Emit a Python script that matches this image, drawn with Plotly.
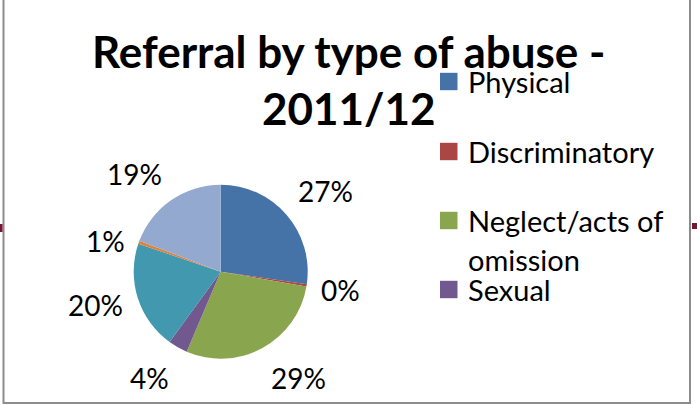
import math
import plotly.graph_objects as go

# ---- data ----
categories = ["Physical", "Discriminatory", "Neglect/acts of omission", "Sexual",
              "Financial/material", "Institutional", "Psychological/emotional"]
shares = [27.3, 0.4, 28.7, 3.6, 20.2, 0.6, 19.2]
colors = ["#4572A7", "#AA4643", "#89A54E", "#71588F", "#4198AF", "#DB843D", "#93A9CF"]
legend_shown = 4  # legend is cut off after the fourth entry in the original

W, H = 697, 405
FONT = "Lato"

def px(x):
    return x / W

def py(y):
    return 1 - y / H

# pie geometry (pixels)
cx, cy, R = 220.7, 271.7, 87

fig = go.Figure()
fig.add_trace(go.Pie(
    labels=categories, values=shares, sort=False, direction="clockwise", rotation=0,
    marker=dict(colors=colors, line=dict(width=0)),
    textinfo="none", hoverinfo="label+percent", showlegend=False,
    domain=dict(x=[px(cx - R), px(cx + R)], y=[py(cy + R), py(cy - R)]),
))

annotations = []
shapes = []

# data labels placed from slice mid-angles
total = sum(shares)
cum = 0.0
r0 = 100
for v in shares:
    mid = (cum + v / 2) / total * 2 * math.pi
    cum += v
    s, c = math.sin(mid), math.cos(mid)
    ax, ay = cx + r0 * s, cy - r0 * c
    xa = "left" if s > 0.35 else ("right" if s < -0.35 else "center")
    ya = "bottom" if c > 0.35 else ("top" if c < -0.35 else "middle")
    if ya == "bottom":
        ay += 4
    elif ya == "middle":
        ay += 3
    pct = round(v / total * 100)
    annotations.append(dict(
        x=px(ax), y=py(ay), xref="paper", yref="paper", xanchor=xa, yanchor=ya,
        text=f"{pct}%", showarrow=False, font=dict(family=FONT, size=28, color="#000000"),
    ))

# title
annotations.append(dict(
    x=px(348), y=py(79), xref="paper", yref="paper", xanchor="center", yanchor="middle",
    text="<b>Referral by type of abuse -<br>2011/12</b>", showarrow=False,
    font=dict(family=FONT, size=44, color="#000000"),
))

# manual legend (only the visible entries)
legend_rows = [81.5, 151.5, 220.5, 289.5]  # square centres (px)
LF = 29
for i in range(legend_shown):
    yc = legend_rows[i]
    shapes.append(dict(type="rect", xref="paper", yref="paper",
                       x0=px(440), x1=px(457.5), y0=py(yc + 8.7), y1=py(yc - 8.7),
                       fillcolor=colors[i], line=dict(width=0)))
    label = categories[i]
    if label.startswith("Neglect"):
        first, second = label.rsplit(" ", 1)
        annotations.append(dict(x=px(466), y=py(yc), xref="paper", yref="paper",
                                xanchor="left", yanchor="middle", text=first, showarrow=False,
                                font=dict(family=FONT, size=LF, color="#000000")))
        annotations.append(dict(x=px(466), y=py(yc + 39), xref="paper", yref="paper",
                                xanchor="left", yanchor="middle", text=second, showarrow=False,
                                font=dict(family=FONT, size=LF, color="#000000")))
    else:
        annotations.append(dict(x=px(466), y=py(yc), xref="paper", yref="paper",
                                xanchor="left", yanchor="middle", text=label, showarrow=False,
                                font=dict(family=FONT, size=LF, color="#000000")))

# frame of the embedded chart
shapes.append(dict(type="rect", xref="paper", yref="paper",
                   x0=px(3.5), x1=px(690), y0=py(403), y1=py(-5),
                   line=dict(color="#8C8C8C", width=2), fillcolor="rgba(0,0,0,0)"))
# decorative slide bars peeking out at both sides
shapes.append(dict(type="rect", xref="paper", yref="paper", x0=px(0), x1=px(2.5),
                   y0=py(232), y1=py(224), fillcolor="#7A1434", line=dict(width=0)))
shapes.append(dict(type="rect", xref="paper", yref="paper", x0=px(692), x1=px(697),
                   y0=py(229), y1=py(223), fillcolor="#7A1434", line=dict(width=0)))

fig.update_layout(
    width=W, height=H, margin=dict(l=0, r=0, t=0, b=0),
    paper_bgcolor="#FFFFFF", plot_bgcolor="#FFFFFF",
    annotations=annotations, shapes=shapes,
    font=dict(family=FONT),
)

fig.write_html("out.html")
